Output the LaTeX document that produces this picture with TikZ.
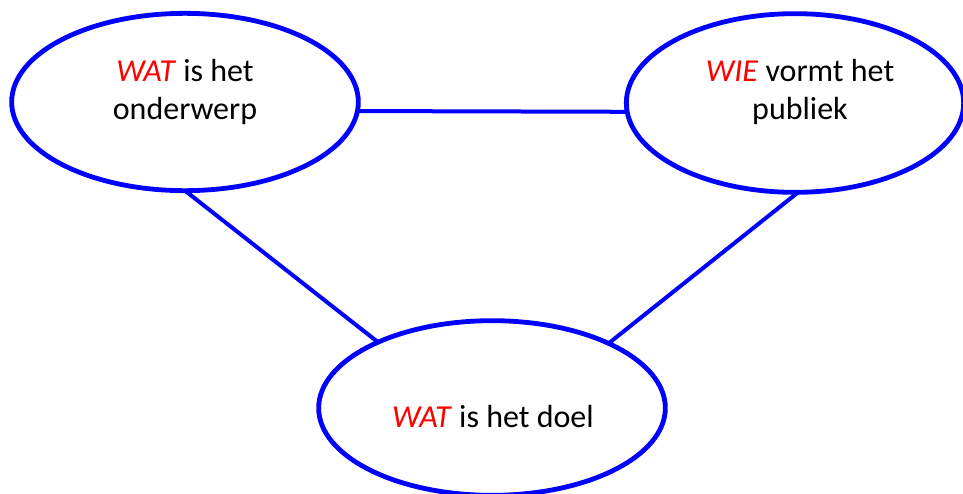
\documentclass[tikz,border=0pt]{standalone}
\usepackage{fontspec}
\setmainfont{Carlito}
\usetikzlibrary{shapes.geometric}
\definecolor{eblue}{RGB}{0,0,255}
\definecolor{ered}{RGB}{255,0,0}
\tikzset{
  bubble/.style={ellipse, draw=eblue, line width=3.6pt, inner sep=0pt, outer sep=0pt},
  link/.style={draw=eblue, line width=3pt},
  txt/.style={anchor=base, inner sep=0pt, font=\fontsize{24}{29}\selectfont}
}
\newcommand{\kw}[1]{\textcolor{ered}{\textit{#1}}}
\begin{document}
\begin{tikzpicture}[x=0.75pt,y=-0.75pt]
\useasboundingbox (0,0) rectangle (963,493);
\node[bubble, minimum width=260pt, minimum height=133pt] (e1) at (185,102) {};
\node[bubble, minimum width=253pt, minimum height=134pt] (e2) at (795,103) {};
\node[bubble, minimum width=260pt, minimum height=131pt] (e3) at (492,408) {};
\node[txt] (t1a) at (185,81) {\kw{WAT} is het};
\node[txt] (t1b) at (185,119) {onderwerp};
\node[txt] (t2a) at (800,81) {\kw{WIE} vormt het};
\node[txt] (t2b) at (800,119) {publiek};
\node[txt] (t3) at (493,427) {\kw{WAT} is het doel};
\draw[link] (e1.-3.3) -- (e2.183.3);
\draw[link] (e1.-90) -- (e3.150.3);
\draw[link] (e2.-88) -- (e3.29.3);
\end{tikzpicture}
\end{document}
